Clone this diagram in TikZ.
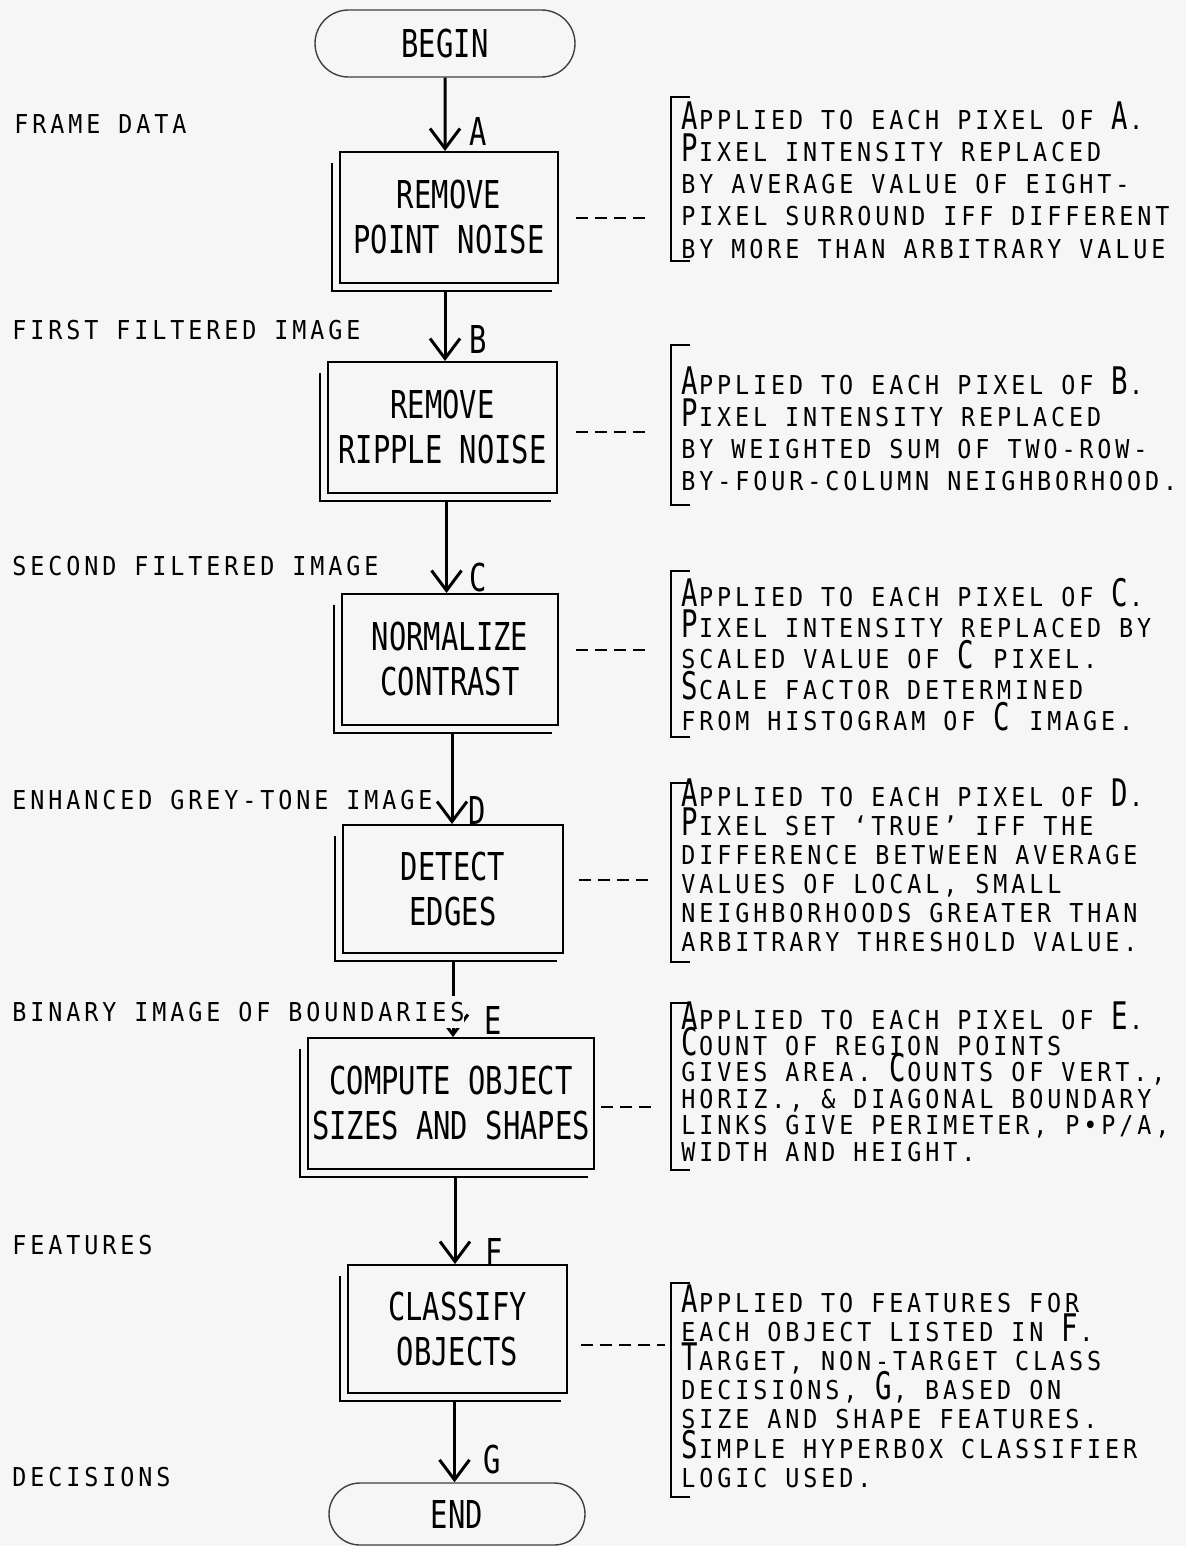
\documentclass[tikz,border=0pt]{standalone}
\usepackage{fontspec}
\usetikzlibrary{arrows.meta,shapes.misc}
\newfontfamily\boxfont[FakeStretch=0.75]{DejaVu Sans Mono}
\newfontfamily\notefont[FakeStretch=0.9, LetterSpace=15]{DejaVu Sans Mono}
\newfontfamily\capfont[FakeStretch=0.72]{DejaVu Sans Mono}
\definecolor{paper}{gray}{0.965}
\newcommand{\bg}[1]{\makebox[8.9pt][l]{\capfont\fontsize{19}{20}\selectfont #1}}
\tikzset{
  proc/.style={draw, line width=1pt, inner sep=1pt, align=center, font=\boxfont\fontsize{19.2}{22.5}\selectfont},
  term/.style={draw=black!75, line width=0.7pt, rounded rectangle, inner sep=1pt, font=\boxfont\fontsize{19.2}{22.5}\selectfont},
  flow/.style={line width=1.5pt, -{Straight Barb[length=10pt, width=15pt]}},
  link/.style={line width=0.9pt, dash pattern=on 6pt off 3.5pt},
  note/.style={anchor=base west, inner sep=0pt, font=\notefont\fontsize{13}{15}\selectfont},
  side/.style={anchor=west, inner sep=0pt, font=\notefont\fontsize{13}{15}\selectfont},
  tag/.style={inner sep=0pt, font=\boxfont\fontsize{19.2}{22.5}\selectfont}}
\newcommand{\brk}[2]{\draw[brace] (690,#1) -- (671,#1) -- (671,#2) -- (690,#2);}
\newcommand{\note}[4]{\foreach \l [count=\i from 0] in {#4} \node[note] (#1-\i) at (681,#2+#3*\i) {\l};}

\begin{document}
\begin{tikzpicture}[x=0.5pt, y=-0.5pt,
  shade/.style={line width=1.3pt},
  brace/.style={line width=0.9pt}]
\fill[paper] (0,0) rectangle (1186,1546);
\useasboundingbox (0,0) rectangle (1186,1546);
% flow chart
\node[term, minimum width=132pt, minimum height=33.5pt] (begin) at (445,43.5) {BEGIN};
\node[proc, minimum width=109pt, minimum height=65.5pt] (b1) at (449,217.5) {REMOVE\\POINT NOISE};
\node[proc, minimum width=114.5pt, minimum height=65.5pt] (b2) at (442.5,427.5) {REMOVE\\RIPPLE NOISE};
\node[proc, minimum width=108pt, minimum height=65.5pt] (b3) at (450,659.5) {NORMALIZE\\CONTRAST};
\node[proc, minimum width=110pt, minimum height=64pt] (b4) at (453,889) {DETECT\\EDGES};
\node[proc, minimum width=143pt, minimum height=65.5pt] (b5) at (451,1103.5) {COMPUTE OBJECT\\SIZES AND SHAPES};
\node[proc, minimum width=109.5pt, minimum height=64pt] (b6) at (457.5,1329) {CLASSIFY\\OBJECTS};
\node[term, minimum width=130pt, minimum height=31pt] (end) at (457,1514) {END};
\foreach \b in {b1,b2,b3,b4,b5,b6}
  \draw[shade] ([shift={(-7,12)}]\b.north west) |- ([shift={(-7,7)}]\b.south east);
\draw[flow] (begin) -- (begin |- b1.north);
\draw[flow] ([shift={(-4,7)}]b1.south) -- ([xshift=-2pt]b1.south |- b2.north);
\draw[flow] ([shift={(4,7)}]b2.south) -- ([xshift=2pt]b2.south |- b3.north);
\draw[flow] ([shift={(2,7)}]b3.south) -- ([xshift=1pt]b3.south |- b4.north);
\draw[flow] ([shift={(0,7)}]b4.south) -- (b4.south |- b5.north);
\draw[flow] ([shift={(4,7)}]b5.south) -- ([xshift=2pt]b5.south |- b6.north);
\draw[flow] ([shift={(-3,7)}]b6.south) -- ([xshift=-1.5pt]b6.south |- end.north);
\node[tag] (ta) at (478,132) {A};
\node[tag] (tb) at (478,340) {B};
\node[tag] (tc) at (478,578) {C};
\node[tag] (td) at (477,810) {D};
\node[tag] (te) at (493,1020) {E};
\node[tag] (tf) at (494,1252) {F};
\node[tag] (tg) at (492,1460) {G};
% data between the steps
\node[side] (s1) at (14,124) {FRAME DATA};
\node[side] (s2) at (12,330) {FIRST FILTERED IMAGE};
\node[side] (s3) at (12,566) {SECOND FILTERED IMAGE};
\node[side] (s4) at (12,800) {ENHANCED GREY-TONE IMAGE};
\node[side, fill=paper, inner ysep=3pt] (s5) at (12,1012) {BINARY IMAGE OF BOUNDARIES};
\node[side] (s6) at (12,1245) {FEATURES};
\node[side] (s7) at (12,1477) {DECISIONS};
% remarks
\brk{97}{261} \brk{345}{505} \brk{571}{737} \brk{783}{962} \brk{1003}{1170} \brk{1283}{1497}
\coordinate (k1) at (671,218);
\coordinate (k2) at (671,432);
\coordinate (k3) at (671,650);
\coordinate (k4) at (671,880);
\coordinate (k5) at (671,1107);
\coordinate (k6) at (671,1345);
\draw[link, shorten <=8.5pt, shorten >=11pt] (b1.east |- k1) -- (k1);
\draw[link, shorten <=9pt, shorten >=11pt] (b2.east |- k2) -- (k2);
\draw[link, shorten <=8.5pt, shorten >=11pt] (b3.east |- k3) -- (k3);
\draw[link, shorten <=7.5pt, shorten >=8.5pt] (b4.east |- k4) -- (k4);
\draw[link, shorten <=3pt, shorten >=7pt] (b5.east |- k5) -- (k5);
\draw[link, shorten <=6.5pt, shorten >=3pt] (b6.east |- k6) -- (k6);
\note{n1}{130}{32}{{\bg{A}PPLIED TO EACH PIXEL OF \bg{A}.}, {\bg{P}IXEL INTENSITY REPLACED},
  {BY AVERAGE VALUE OF EIGHT-}, {PIXEL SURROUND IFF DIFFERENT}, {BY MORE THAN ARBITRARY VALUE}}
\note{n2}{394}{32}{{\bg{A}PPLIED TO EACH PIXEL OF \bg{B}.}, {\bg{P}IXEL INTENSITY REPLACED},
  {BY WEIGHTED SUM OF TWO-ROW-}, {BY-FOUR-COLUMN NEIGHBORHOOD.}}
\note{n3}{606}{31}{{\bg{A}PPLIED TO EACH PIXEL OF \bg{C}.}, {\bg{P}IXEL INTENSITY REPLACED BY},
  {SCALED VALUE OF \bg{C} PIXEL.}, {\bg{S}CALE FACTOR DETERMINED}, {FROM HISTOGRAM OF \bg{C} IMAGE.}}
\note{n4}{806}{29}{{\bg{A}PPLIED TO EACH PIXEL OF \bg{D}.}, {\bg{P}IXEL SET ‘TRUE’ IFF THE},
  {DIFFERENCE BETWEEN AVERAGE}, {VALUES OF LOCAL, SMALL}, {NEIGHBORHOODS GREATER THAN},
  {ARBITRARY THRESHOLD VALUE.}}
\note{n5}{1029}{26.4}{{\bg{A}PPLIED TO EACH PIXEL OF \bg{E}.}, {\bg{C}OUNT OF REGION POINTS},
  {GIVES AREA. \bg{C}OUNTS OF VERT.,}, {HORIZ., \& DIAGONAL BOUNDARY},
  {LINKS GIVE PERIMETER, P•P/A,}, {WIDTH AND HEIGHT.}}
\note{n6}{1312}{29.2}{{\bg{A}PPLIED TO FEATURES FOR}, {EACH OBJECT LISTED IN \bg{F}.},
  {\bg{T}ARGET, NON-TARGET CLASS}, {DECISIONS, \bg{G}, BASED ON}, {SIZE AND SHAPE FEATURES.},
  {\bg{S}IMPLE HYPERBOX CLASSIFIER}, {LOGIC USED.}}
\end{tikzpicture}
\end{document}
